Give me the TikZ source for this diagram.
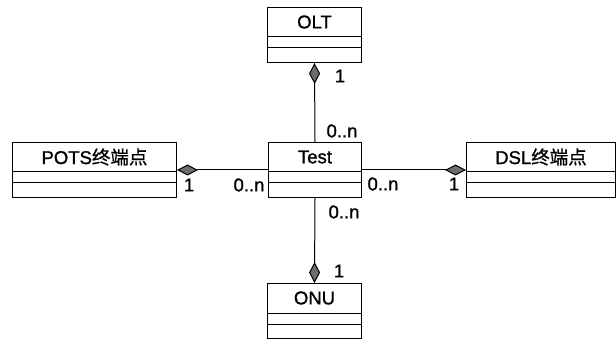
\documentclass[tikz,border=0pt]{standalone}
\usepackage{fontspec}
\setmainfont{Liberation Sans}[FakeBold=1.2]
\newfontfamily\cjk{Noto Sans CJK SC}[FakeBold=0.8]
\usetikzlibrary{arrows.meta}
\tikzset{
  classbox/.style={draw, line width=1pt, minimum height=55pt, inner sep=0pt, anchor=north west},
  classname/.style={font=\fontsize{18.5}{22}\selectfont, inner sep=0pt},
  lbl/.style={font=\fontsize{18.5}{22}\selectfont, inner sep=0pt},
  agg/.style={line width=1pt, -{Diamond[length=21pt,width=11pt,fill=gray!85!black,line width=1pt]}},
}
\newcommand\mkclass[5]{%
  \node[classbox, minimum width=#4] (#1) at (#2,#3) {};
  \node[classname] (#1-name) at ([yshift=-15pt]#1.north) {#5};
  \draw[line width=1pt] ([yshift=-30pt]#1.north west) -- ([yshift=-30pt]#1.north east);
  \draw[line width=1pt] ([yshift=-41pt]#1.north west) -- ([yshift=-41pt]#1.north east);
}
\begin{document}
\begin{tikzpicture}[x=1pt,y=-1pt]
\useasboundingbox (0,0) rectangle (616,339);
\mkclass{olt}{267}{7}{94pt}{OLT}
\mkclass{test}{268}{142}{93pt}{Test}
\mkclass{pots}{12}{142}{164pt}{POTS{\cjk 终端点}}
\mkclass{dsl}{466}{142}{149pt}{DSL{\cjk 终端点}}
\mkclass{onu}{267}{283}{94pt}{ONU}
\draw[agg] (test.north) -- (olt.south);
\draw[agg] (test.west) -- (pots.east);
\draw[agg] (test.east) -- (dsl.west);
\draw[agg] (test.south) -- (onu.north);
\node[lbl] (l1) at (340,76) {1};
\node[lbl] (l2) at (342,131) {0..n};
\node[lbl] (l3) at (189,185) {1};
\node[lbl] (l4) at (249,185) {0..n};
\node[lbl] (l5) at (383,184) {0..n};
\node[lbl] (l6) at (454,184) {1};
\node[lbl] (l7) at (344,212) {0..n};
\node[lbl] (l8) at (339,271) {1};
\end{tikzpicture}
\end{document}
